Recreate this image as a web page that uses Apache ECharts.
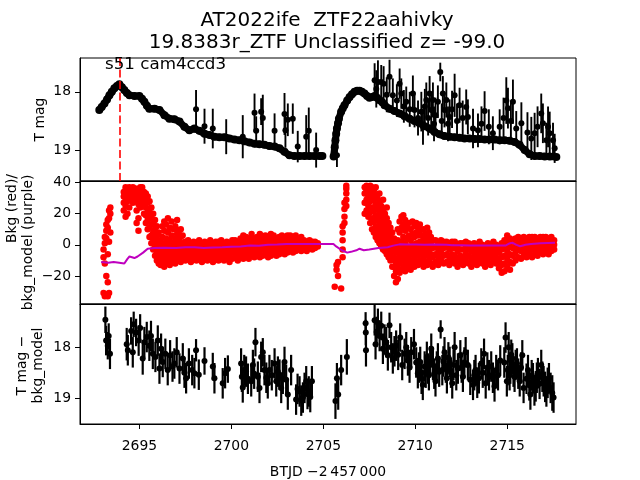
<!DOCTYPE html>
<html>
<head>
<meta charset="utf-8">
<script src="https://cdn.jsdelivr.net/npm/echarts@6/dist/echarts.min.js"></script>
<style>
html,body{margin:0;padding:0;background:#fff;}
#c{width:640px;height:480px;}
</style>
</head>
<body>
<div id="c"></div>
<script>
// ---------------- DATA ----------------
const titleLine1 = 'AT2022ife  ZTF22aahivky';
const titleLine2 = '19.8383r_ZTF Unclassified z= -99.0';
const sectorLabel = 's51 cam4ccd3';
const markerTime = 2693.91;
const xTicks = [2695, 2700, 2705, 2710, 2715];
const magTicks = [18, 19];
const bkgTicks = [-20, 0, 20, 40];

// Top panel: dense light curve (time, T mag), two orbits
const lcSeg1 = [[2692.82,18.31],[2692.95,18.26],[2693.10,18.20],[2693.24,18.13],[2693.37,18.06],[2693.50,18.00],[2693.64,17.94],[2693.78,17.90],[2693.91,17.87],[2694.05,17.92],[2694.18,17.97],[2694.32,18.02],[2694.46,18.06],[2694.73,18.07],[2695.00,18.07],[2695.14,18.12],[2695.27,18.17],[2695.41,18.24],[2695.54,18.29],[2695.82,18.29],[2696.09,18.31],[2696.36,18.40],[2696.63,18.46],[2696.90,18.47],[2697.18,18.51],[2697.45,18.60],[2697.72,18.66],[2697.99,18.63],[2698.26,18.67],[2698.54,18.72],[2698.81,18.74],[2699.08,18.77],[2699.35,18.78],[2699.62,18.78],[2699.90,18.80],[2700.17,18.82],[2700.44,18.83],[2700.71,18.85],[2700.99,18.87],[2701.26,18.89],[2701.53,18.90],[2701.80,18.91],[2702.07,18.93],[2702.35,18.94],[2702.62,18.97],[2702.89,19.03],[2703.16,19.09],[2703.43,19.10],[2703.71,19.10],[2703.98,19.10],[2704.25,19.10],[2704.52,19.10],[2704.79,19.10],[2704.95,19.10]];
const lcSeg2 = [[2705.56,19.11],[2705.62,18.95],[2705.66,18.83],[2705.70,18.72],[2705.74,18.63],[2705.80,18.54],[2705.85,18.46],[2705.97,18.34],[2706.06,18.28],[2706.15,18.23],[2706.30,18.15],[2706.43,18.09],[2706.56,18.04],[2706.70,18.00],[2706.84,17.98],[2706.97,17.98],[2707.10,18.00],[2707.24,18.03],[2707.38,18.07],[2707.51,18.10],[2707.65,18.09],[2707.79,18.07],[2707.92,18.10],[2708.06,18.14],[2708.20,18.18],[2708.33,18.23],[2708.60,18.29],[2708.87,18.33],[2709.15,18.37],[2709.42,18.42],[2709.69,18.46],[2709.96,18.50],[2710.23,18.54],[2710.51,18.59],[2710.78,18.63],[2711.05,18.69],[2711.32,18.73],[2711.59,18.76],[2711.87,18.77],[2712.14,18.78],[2712.41,18.79],[2712.68,18.80],[2712.95,18.80],[2713.23,18.81],[2713.50,18.81],[2713.77,18.82],[2714.04,18.82],[2714.31,18.82],[2714.59,18.83],[2714.86,18.83],[2715.13,18.84],[2715.40,18.86],[2715.67,18.91],[2715.95,19.00],[2716.22,19.07],[2716.49,19.10],[2716.76,19.10],[2717.04,19.11],[2717.31,19.11],[2717.67,19.12]];

// Top panel: noisy points with error bars [time, mag, err]
const lcNoisy = [[2698.08,18.30,0.33],[2698.54,18.59,0.30],[2698.99,18.63,0.34],[2699.72,18.77,0.30],[2700.62,18.77,0.37],[2701.26,18.36,0.33],[2701.35,18.67,0.25],[2701.62,18.34,0.23],[2701.71,18.45,0.40],[2702.35,18.67,0.30],[2702.89,18.38,0.36],[2702.94,18.66,0.30],[2703.07,18.48,0.28],[2703.34,18.46,0.26],[2703.61,18.94,0.27],[2704.07,18.77,0.37],[2704.21,18.67,0.40],[2704.61,19.00,0.30],[2705.74,19.09,0.20],
[2707.79,17.80,0.29],[2707.88,17.95,0.32],[2707.97,17.83,0.37],[2708.15,17.83,0.29],[2708.28,17.86,0.30],[2708.45,18.05,0.30],[2708.60,17.74,0.29],[2708.78,18.06,0.29],[2709.00,18.15,0.28],[2709.15,17.86,0.26],[2709.24,18.03,0.26],[2709.38,18.25,0.28],[2709.51,18.17,0.26],[2709.70,18.30,0.30],[2709.87,18.03,0.31],[2709.96,18.31,0.30],[2710.15,18.45,0.30],[2710.33,18.34,0.34],[2710.42,18.60,0.31],[2710.52,18.25,0.30],[2710.60,18.14,0.30],[2710.70,18.45,0.30],[2710.78,18.03,0.30],[2710.87,18.31,0.30],[2710.96,18.14,0.30],[2711.02,18.55,0.30],[2711.10,18.40,0.30],[2711.23,18.17,0.28],[2711.36,17.66,0.16],[2711.44,18.50,0.30],[2711.50,18.03,0.30],[2711.59,18.31,0.30],[2711.69,18.14,0.30],[2711.78,18.55,0.30],[2711.87,18.43,0.30],[2712.00,18.30,0.32],[2712.14,18.06,0.37],[2712.27,18.50,0.30],[2712.41,18.23,0.30],[2712.58,18.45,0.30],[2712.77,18.26,0.30],[2712.86,18.43,0.30],[2713.14,18.63,0.34],[2713.41,18.66,0.29],[2713.60,18.55,0.30],[2713.77,18.33,0.34],[2714.00,18.60,0.30],[2714.22,18.71,0.29],[2714.59,18.60,0.30],[2714.80,18.45,0.35],[2714.95,18.15,0.40],[2715.04,18.28,0.35],[2715.20,18.50,0.35],[2715.31,18.17,0.38],[2715.49,18.63,0.30],[2715.77,18.54,0.36],[2716.10,18.70,0.35],[2716.31,18.80,0.37],[2716.49,18.71,0.35],[2716.65,18.60,0.35],[2716.85,18.37,0.34],[2716.94,18.54,0.34],[2717.13,18.83,0.30],[2717.22,18.60,0.35],[2717.31,18.71,0.37],[2717.49,18.83,0.30],[2717.58,18.97,0.25]];

// Middle panel: background flux samples, grouped by time [time, [values]]
const bkgColumns = [
[2693.05,[-31,-8,-3]],[2693.12,[-33,-12,1,5]],[2693.20,[-32,-20,4,9,13]],[2693.28,[-33,-24,-6,11,16]],[2693.35,[-31,2,17,22]],[2693.42,[8,20,24]],
[2694.15,[22,27,31,34]],[2694.25,[18,25,30,35,37]],[2694.35,[20,28,33,36]],[2694.45,[24,31,35,37]],[2694.55,[29,33,36]],[2694.65,[27,32,35,37]],[2694.75,[30,34,36]],[2694.85,[14,22,29,33,36]],[2694.95,[9,17,26,32,35]],[2695.05,[24,30,34,37]],[2695.15,[27,31,35,37]],[2695.25,[20,26,31,34]],[2695.35,[14,19,24,29,33]],[2695.45,[10,16,21,27,31]],[2695.55,[5,11,17,23,28]],[2695.65,[1,6,13,19,24]],[2695.75,[-3,2,8,14,20]],[2695.85,[-7,-2,4,10,16]],[2695.95,[-10,-5,0,6,12]],
[2696.05,[-12,-7,-2,3,8]],[2696.15,[-13,-8,-3,2]],[2696.25,[-11,-6,-1,5,12]],[2696.35,[-14,-9,-4,1,9,15]],[2696.45,[-12,-7,-2,4,13]],[2696.55,[-10,-5,0,8,17]],[2696.65,[-13,-8,-3,3,11]],[2696.75,[-11,-6,-1,6,15]],[2696.85,[-9,-4,1,10]],[2696.95,[-12,-7,-2,4,12]],[2697.05,[-10,-5,0,7,16]],[2697.15,[-8,-3,2,9]],[2697.25,[-11,-6,-1,5,10]],[2697.35,[-9,-4,1,6]],
[2697.50,[-10,-6,-2,2]],[2697.65,[-8,-4,0,3]],[2697.80,[-11,-7,-3,1]],[2697.95,[-9,-5,-1,2]],[2698.10,[-10,-6,-2,1]],[2698.25,[-8,-4,0,3]],[2698.40,[-11,-7,-3,0]],[2698.55,[-9,-5,-1,2]],[2698.70,[-10,-6,-2,1]],[2698.85,[-8,-4,0,3]],[2699.00,[-11,-7,-3,1]],[2699.15,[-9,-5,-1,2]],[2699.30,[-10,-6,-2,2]],[2699.45,[-8,-4,0,3]],[2699.60,[-10,-6,-2,1]],[2699.75,[-9,-5,-1,2]],[2699.90,[-11,-7,-3,1]],
[2700.05,[-9,-5,-1,3]],[2700.20,[-8,-4,0,3]],[2700.35,[-10,-6,-2,2]],[2700.50,[-8,-4,0,4]],[2700.65,[-9,-5,-1,3,6]],[2700.80,[-7,-3,1,5]],[2700.95,[-9,-5,-1,3]],[2701.10,[-7,-3,1,4,7]],[2701.25,[-8,-4,0,4]],[2701.40,[-6,-2,2,5]],[2701.55,[-8,-4,0,3,7]],[2701.70,[-7,-3,1,4]],[2701.85,[-6,-2,2,6]],[2702.00,[-8,-4,0,3]],[2702.15,[-7,-3,1,5,7]],[2702.30,[-5,-1,3,6]],[2702.45,[-7,-3,1,4]],[2702.60,[-6,-2,2,5]],[2702.75,[-5,-1,3,6]],[2702.90,[-6,-2,1,4]],
[2703.05,[-5,-1,3,6]],[2703.20,[-4,0,3,6]],[2703.35,[-5,-1,2,5]],[2703.50,[-4,0,3,6]],[2703.65,[-3,0,3]],[2703.80,[-4,-1,2,5]],[2703.95,[-3,0,3]],[2704.10,[-4,-1,2]],[2704.25,[-2,1,3]],[2704.40,[-3,0,2]],[2704.55,[-2,0,2]],[2704.70,[-1,1]],
[2705.62,[-27]],[2705.72,[-13,-16]],[2705.80,[-20,-11]],[2705.97,[-28]],[2706.05,[-8,-3,3,8,12]],[2706.15,[14,18,23,27]],[2706.25,[25,29,33,36,38]],
[2707.25,[20,27,33,37]],[2707.35,[22,29,35,38]],[2707.45,[18,25,31,36]],[2707.55,[14,21,28,34,38]],[2707.65,[10,17,24,31,37]],[2707.75,[8,15,22,29,35]],[2707.85,[5,12,19,26,32,37]],[2707.95,[3,9,16,23,30]],[2708.05,[1,7,13,20,27,33]],[2708.15,[-1,5,11,18,25]],[2708.25,[-3,3,9,15,22,29]],[2708.35,[-4,1,7,13,20]],[2708.45,[-6,-1,5,11,17,24]],[2708.55,[-8,-3,3,9,14]],[2708.65,[-10,-5,0,6,11]],[2708.75,[-14,-8,-3,3,8]],[2708.85,[-20,-14,-8,-2,4]],[2708.95,[-24,-17,-11,-5,1]],
[2709.05,[-22,-15,-9,-3,3,10]],[2709.15,[-18,-12,-6,0,8,15]],[2709.25,[-16,-10,-4,2,11,18]],[2709.35,[-14,-8,-2,5,13,19]],[2709.45,[-17,-11,-5,1,9,16]],[2709.55,[-15,-9,-3,4,12]],[2709.65,[-13,-7,-1,6,14]],[2709.75,[-16,-10,-4,3,10]],[2709.85,[-12,-6,0,7,15]],[2709.95,[-14,-8,-2,5,12]],[2710.05,[-11,-5,1,8,14]],[2710.15,[-13,-7,-1,6,11]],[2710.25,[-10,-4,2,9,13]],[2710.35,[-12,-6,0,6]],[2710.45,[-14,-8,-2,4,10]],[2710.55,[-11,-5,1,7]],[2710.65,[-13,-7,-1,5,11]],[2710.75,[-10,-4,2,8]],[2710.85,[-12,-6,0,5]],[2710.95,[-14,-8,-2,3]],
[2711.10,[-11,-6,-1,3]],[2711.25,[-13,-8,-3,1]],[2711.40,[-10,-5,0,3]],[2711.55,[-12,-7,-2,2]],[2711.70,[-11,-6,-1,2]],[2711.85,[-13,-8,-3,1]],[2712.00,[-10,-6,-2,2]],[2712.15,[-12,-7,-2,2]],[2712.30,[-14,-9,-4,0]],[2712.45,[-11,-7,-3,1]],[2712.60,[-13,-8,-3,1]],[2712.75,[-10,-6,-2,2]],[2712.90,[-12,-7,-3,1]],[2713.05,[-14,-9,-4,0]],[2713.20,[-11,-7,-3,1]],[2713.35,[-13,-8,-4,0]],[2713.50,[-10,-6,-2,2]],[2713.65,[-12,-8,-4,0]],[2713.80,[-14,-9,-5,-1]],[2713.95,[-11,-7,-3,1]],[2714.10,[-13,-8,-4,0]],[2714.25,[-10,-6,-2,2]],[2714.40,[-12,-8,-4,0]],[2714.55,[-15,-10,-5,-1]],[2714.70,[-18,-13,-8,-3,1]],[2714.85,[-17,-12,-7,-2,3]],
[2715.00,[-14,-9,-4,1,6]],[2715.15,[-16,-11,-6,-1,4]],[2715.30,[-12,-7,-2,3]],[2715.45,[-10,-5,0,4]],[2715.60,[-8,-3,1,5]],[2715.75,[-9,-4,0,4]],[2715.90,[-7,-3,1,5]],[2716.05,[-8,-4,0,4]],[2716.20,[-6,-2,2,5]],[2716.35,[-8,-3,1,5]],[2716.50,[-6,-2,2,5]],[2716.65,[-7,-3,1,4]],[2716.80,[-5,-1,3,5]],[2716.95,[-6,-2,2,5]],[2717.10,[-5,-1,3,5]],[2717.25,[-6,-2,2,4]],[2717.40,[-4,0,3,5]],[2717.55,[-3,0,3]]
];

// Middle panel: background model (purple)
const bkgModel = [[2692.92,-11],[2693.3,-11.5],[2693.6,-11],[2693.9,-11.5],[2694.18,-12],[2694.35,-9],[2694.46,-7.5],[2694.6,-8],[2694.73,-8.5],[2694.9,-7.5],[2695.0,-8],[2695.2,-5],[2695.45,-2.5],[2695.8,-2],[2696.3,-1.8],[2697.0,-2],[2697.5,-1.5],[2698.0,-1.5],[2698.5,-2],[2699.0,-1.7],[2699.5,-1.5],[2700.0,-1.2],[2700.5,-1],[2701.0,-0.5],[2701.5,-0.6],[2702.0,0],[2702.5,0.2],[2703.0,0.6],[2703.5,0.6],[2704.0,0.5],[2704.5,0.6],[2705.0,0.6],[2705.55,0.5],[2705.7,-1],[2706.0,-3.5],[2706.3,-5],[2706.5,-4.5],[2706.8,-3.5],[2706.97,-2.5],[2707.2,-3.5],[2707.5,-3],[2708.0,-2],[2708.5,-1.5],[2708.8,-0.5],[2709.15,0.3],[2709.5,0.2],[2710.0,0.2],[2710.5,0],[2711.0,0.2],[2711.7,0.1],[2712.0,-0.2],[2712.5,-0.3],[2713.0,-0.5],[2713.5,-0.5],[2714.0,-0.4],[2714.5,-0.5],[2714.9,-0.5],[2715.1,0.8],[2715.3,1.3],[2715.5,0],[2715.7,-0.9],[2716.0,0],[2716.3,0.5],[2716.8,1],[2717.2,1.2],[2717.6,1.3]];

// Bottom panel: background-corrected binned magnitudes [time, mag, err]
const corrMag = [[2693.15,17.46,0.26],[2693.19,17.87,0.29],[2693.28,17.97,0.27],[2693.33,17.78,0.25],[2693.40,18.13,0.30],
[2694.31,17.94,0.32],[2694.37,18.06,0.30],[2694.55,17.68,0.27],[2694.64,18.10,0.30],[2694.69,17.55,0.25],[2694.82,17.71,0.27],[2694.96,17.87,0.30],[2695.04,17.62,0.27],[2695.18,18.22,0.32],[2695.27,17.90,0.30],[2695.40,17.80,0.30],[2695.54,17.97,0.30],[2695.63,17.78,0.30],[2695.73,18.13,0.30],[2695.87,18.19,0.30],[2696.00,17.87,0.30],[2696.09,18.42,0.30],[2696.18,18.03,0.30],[2696.27,18.29,0.30],[2696.41,18.13,0.30],[2696.54,18.45,0.30],[2696.67,18.16,0.30],[2696.80,18.38,0.30],[2696.90,18.32,0.30],[2697.03,18.10,0.30],[2697.18,18.42,0.30],[2697.36,18.22,0.30],[2697.45,18.50,0.30],[2697.54,18.61,0.30],[2697.69,18.32,0.30],[2697.87,18.45,0.30],[2697.99,18.51,0.30],[2698.08,18.06,0.22],[2698.23,18.54,0.30],[2698.54,18.27,0.27],[2698.99,18.38,0.27],[2699.08,18.61,0.30],[2699.53,18.71,0.30],[2699.66,18.51,0.30],[2699.81,18.43,0.27],
[2700.53,18.32,0.30],[2700.57,18.58,0.30],[2700.62,18.79,0.30],[2700.70,18.45,0.30],[2700.80,18.48,0.30],[2700.90,18.62,0.30],[2701.08,18.67,0.30],[2701.17,18.35,0.30],[2701.24,18.52,0.30],[2701.31,17.90,0.28],[2701.44,18.58,0.30],[2701.53,18.80,0.30],[2701.62,18.19,0.30],[2701.71,18.10,0.28],[2701.80,18.45,0.30],[2701.90,18.60,0.30],[2701.98,18.71,0.30],[2702.07,18.45,0.30],[2702.20,18.55,0.30],[2702.35,18.32,0.30],[2702.44,18.67,0.30],[2702.53,18.48,0.30],[2702.62,18.54,0.30],[2702.71,18.80,0.30],[2702.80,18.62,0.30],[2702.89,18.29,0.30],[2702.98,18.64,0.30],[2703.07,18.93,0.30],[2703.25,18.45,0.30],[2703.52,19.03,0.30],[2703.60,18.82,0.30],[2703.71,18.87,0.30],[2703.80,19.05,0.30],[2703.89,18.99,0.30],[2703.98,18.80,0.30],[2704.07,18.67,0.30],[2704.14,18.92,0.30],[2704.21,18.87,0.30],[2704.29,18.98,0.30],[2704.38,18.67,0.30],
[2705.66,19.06,0.35],[2705.74,18.61,0.30],[2705.81,18.93,0.30],[2705.97,18.45,0.30],[2706.28,18.19,0.35],
[2707.30,17.53,0.22],[2707.31,17.71,0.25],[2707.32,18.06,0.32],[2707.79,17.47,0.30],[2707.84,17.94,0.30],[2707.90,17.70,0.30],[2707.97,17.52,0.28],[2708.06,17.78,0.30],[2708.15,17.58,0.28],[2708.24,18.03,0.30],[2708.33,17.85,0.30],[2708.42,17.90,0.30],[2708.51,18.16,0.30],[2708.60,17.57,0.25],[2708.69,18.00,0.30],[2708.78,18.22,0.30],[2708.87,18.08,0.30],[2708.96,17.97,0.30],[2709.07,18.15,0.30],[2709.18,17.81,0.28],[2709.29,18.35,0.30],[2709.42,18.13,0.30],[2709.51,18.00,0.30],[2709.60,18.26,0.30],[2709.69,18.40,0.30],[2709.78,18.10,0.30],[2709.93,17.94,0.30],
[2710.05,18.30,0.30],[2710.14,18.51,0.30],[2710.20,18.40,0.30],[2710.27,18.29,0.30],[2710.34,18.62,0.30],[2710.41,18.74,0.30],[2710.51,18.38,0.30],[2710.57,18.50,0.30],[2710.63,18.19,0.30],[2710.69,18.42,0.30],[2710.74,18.55,0.30],[2710.81,18.28,0.30],[2710.87,18.03,0.30],[2710.96,18.35,0.30],[2711.03,18.52,0.30],[2711.10,18.67,0.30],[2711.17,18.38,0.30],[2711.23,18.22,0.30],[2711.30,18.48,0.30],[2711.38,17.65,0.18],[2711.47,18.45,0.30],[2711.53,18.28,0.30],[2711.59,18.10,0.30],[2711.66,18.40,0.30],[2711.72,18.61,0.30],[2711.80,18.20,0.30],[2711.87,18.29,0.30],[2711.94,18.50,0.30],[2712.01,18.71,0.30],[2712.08,18.35,0.30],[2712.14,18.00,0.30],[2712.23,18.55,0.30],[2712.32,18.42,0.30],[2712.45,18.16,0.30],[2712.52,18.40,0.30],[2712.59,18.58,0.30],[2712.67,18.30,0.30],[2712.74,18.10,0.30],[2712.86,18.35,0.30],[2712.99,18.64,0.30],
[2713.14,18.74,0.30],[2713.21,18.55,0.30],[2713.28,18.45,0.30],[2713.37,18.70,0.30],[2713.46,18.61,0.30],[2713.59,18.32,0.30],[2713.67,18.50,0.30],[2713.74,18.13,0.30],[2713.83,18.71,0.30],[2713.92,18.40,0.30],[2714.01,18.55,0.30],[2714.13,18.38,0.30],[2714.22,18.60,0.30],[2714.31,18.77,0.30],[2714.40,18.45,0.30],[2714.50,18.55,0.30],[2714.62,18.26,0.30],[2714.84,18.30,0.30],[2714.91,17.81,0.30],[2714.98,18.67,0.30],[2715.03,18.45,0.30],[2715.08,18.00,0.30],[2715.13,18.55,0.30],[2715.17,18.42,0.30],[2715.22,18.15,0.30],[2715.28,18.22,0.30],[2715.34,18.48,0.30],[2715.40,18.58,0.30],[2715.46,18.35,0.30],[2715.53,18.32,0.30],[2715.60,18.52,0.30],[2715.68,18.67,0.30],[2715.75,18.40,0.30],[2715.82,18.16,0.30],[2715.89,18.80,0.30],
[2716.05,18.62,0.30],[2716.13,18.45,0.30],[2716.20,18.75,0.30],[2716.26,18.93,0.30],[2716.33,18.55,0.30],[2716.40,18.61,0.30],[2716.48,18.85,0.30],[2716.55,18.77,0.30],[2716.61,18.60,0.30],[2716.67,18.51,0.30],[2716.76,18.72,0.30],[2716.85,18.35,0.30],[2716.91,18.58,0.30],[2716.98,18.67,0.30],[2717.06,18.78,0.30],[2717.13,18.87,0.30],[2717.20,18.70,0.30],[2717.27,18.61,0.30],[2717.36,18.80,0.30],[2717.45,18.90,0.35],[2717.52,18.99,0.30]];

// ---------------- CHART ----------------
const FONT = 'DejaVu Sans';
const chart = echarts.init(document.getElementById('c'), null, {renderer: 'canvas'});
const L = 80, W = 496;
const tops = [58, 181, 304], H = 123;
const xMin = 2691.77, xMax = 2718.74;

const lcData = lcSeg1.concat([[null, null]], lcSeg2);
const bkgPoints = [];
bkgColumns.forEach(c => c[1].forEach(v => bkgPoints.push([c[0], v])));
const minus = v => (v < 0 ? '\u2212' + Math.abs(v) : String(v));

function errRender(rad, lw) {
  return function (params, api) {
    const x = api.value(0), y = api.value(1), e = api.value(2);
    const p = api.coord([x, y]);
    const lo = api.coord([x, y - e]);
    const hi = api.coord([x, y + e]);
    return {
      type: 'group',
      children: [
        {type: 'line', shape: {x1: p[0], y1: lo[1], x2: p[0], y2: hi[1]}, style: {stroke: '#000', lineWidth: lw}},
        {type: 'circle', shape: {cx: p[0], cy: p[1], r: rad}, style: {fill: '#000'}}
      ]
    };
  };
}

function xAxisFor(i) {
  const bottom = i === 2;
  return {
    type: 'value', gridIndex: i, min: xMin, max: xMax,
    axisLine: {show: true, onZero: false, lineStyle: {color: '#000', width: 1}},
    splitLine: {show: false},
    axisTick: {show: bottom, length: 5, lineStyle: {color: '#000'}, customValues: xTicks},
    axisLabel: {show: bottom, customValues: xTicks, color: '#000', fontSize: 13.9, fontFamily: FONT, margin: 15, formatter: v => String(v)},
    name: bottom ? 'BTJD \u22122\u2009457\u2009000' : '',
    nameLocation: 'middle', nameGap: 41,
    nameTextStyle: {color: '#000', fontSize: 13.9, fontFamily: FONT}
  };
}
function yAxisFor(i, opts) {
  return Object.assign({
    type: 'value', gridIndex: i,
    axisLine: {show: true, onZero: false, lineStyle: {color: '#000', width: 1}},
    splitLine: {show: false}
  }, opts);
}
const yLab = extra => Object.assign({color: '#000', fontSize: 13.9, fontFamily: FONT, margin: 9}, extra);
const yTick = vals => ({show: true, length: 5, lineStyle: {color: '#000'}, customValues: vals});

const option = {
  animation: false,
  backgroundColor: '#fff',
  grid: tops.map(t => ({left: L, top: t, width: W, height: H, show: true, borderColor: '#000', borderWidth: 1, backgroundColor: 'transparent'})),
  xAxis: [xAxisFor(0), xAxisFor(1), xAxisFor(2)],
  yAxis: [
    yAxisFor(0, {inverse: true, min: 17.42, max: 19.53, axisTick: yTick(magTicks), axisLabel: yLab({customValues: magTicks})}),
    yAxisFor(1, {min: -38, max: 41, axisTick: yTick(bkgTicks), axisLabel: yLab({customValues: bkgTicks, formatter: minus})}),
    yAxisFor(2, {inverse: true, min: 17.15, max: 19.51, axisTick: yTick(magTicks), axisLabel: yLab({customValues: magTicks})})
  ],
  series: [
    {
      type: 'line', xAxisIndex: 0, yAxisIndex: 0, data: lcData,
      symbol: 'circle', symbolSize: 8, showSymbol: true, connectNulls: false,
      lineStyle: {color: '#000', width: 7}, itemStyle: {color: '#000'}, clip: true,
      markLine: {
        silent: true, symbol: 'none', label: {show: false},
        lineStyle: {color: '#ff0000', type: [8, 3.5], width: 1.6},
        data: [{xAxis: markerTime}]
      }
    },
    {
      type: 'custom', xAxisIndex: 0, yAxisIndex: 0, data: lcNoisy,
      renderItem: errRender(3, 1.9), clip: true
    },
    {
      type: 'scatter', xAxisIndex: 1, yAxisIndex: 1, data: bkgPoints,
      symbol: 'circle', symbolSize: 6.5, itemStyle: {color: '#ff0000', opacity: 1}, clip: true
    },
    {
      type: 'line', xAxisIndex: 1, yAxisIndex: 1, data: bkgModel,
      symbol: 'none', lineStyle: {color: '#bf00bf', width: 2}, clip: true, z: 5
    },
    {
      type: 'custom', xAxisIndex: 2, yAxisIndex: 2, data: corrMag,
      renderItem: errRender(3, 2.2), clip: true
    }
  ],
  graphic: [
    {type: 'text', x: 327, y: 21, style: {text: titleLine1, font: '20px "DejaVu Sans"', fill: '#000', textAlign: 'center', textVerticalAlign: 'middle'}},
    {type: 'text', x: 327, y: 43, style: {text: titleLine2, font: '20px "DejaVu Sans"', fill: '#000', textAlign: 'center', textVerticalAlign: 'middle'}},
    {type: 'text', x: 105, y: 64.5, z: 100, style: {text: sectorLabel, font: '16.7px "DejaVu Sans"', fill: '#000', textAlign: 'left', textVerticalAlign: 'middle'}},
    {type: 'text', x: 40, y: 119.5, rotation: Math.PI / 2, style: {text: 'T mag', font: '13.9px "DejaVu Sans"', fill: '#000', textAlign: 'center', textVerticalAlign: 'middle'}},
    {type: 'text', x: 12, y: 174, rotation: Math.PI / 2, style: {text: 'Bkg (red)/', font: '13.9px "DejaVu Sans"', fill: '#000', textAlign: 'right', textVerticalAlign: 'middle'}},
    {type: 'text', x: 28, y: 242.5, rotation: Math.PI / 2, style: {text: 'bkg_model (purple)', font: '13.9px "DejaVu Sans"', fill: '#000', textAlign: 'center', textVerticalAlign: 'middle'}},
    {type: 'text', x: 22, y: 365.5, rotation: Math.PI / 2, style: {text: 'T mag \u2212', font: '13.9px "DejaVu Sans"', fill: '#000', textAlign: 'center', textVerticalAlign: 'middle'}},
    {type: 'text', x: 38, y: 365.5, rotation: Math.PI / 2, style: {text: 'bkg_model', font: '13.9px "DejaVu Sans"', fill: '#000', textAlign: 'center', textVerticalAlign: 'middle'}}
  ]
};
chart.setOption(option);
</script>
</body>
</html>
